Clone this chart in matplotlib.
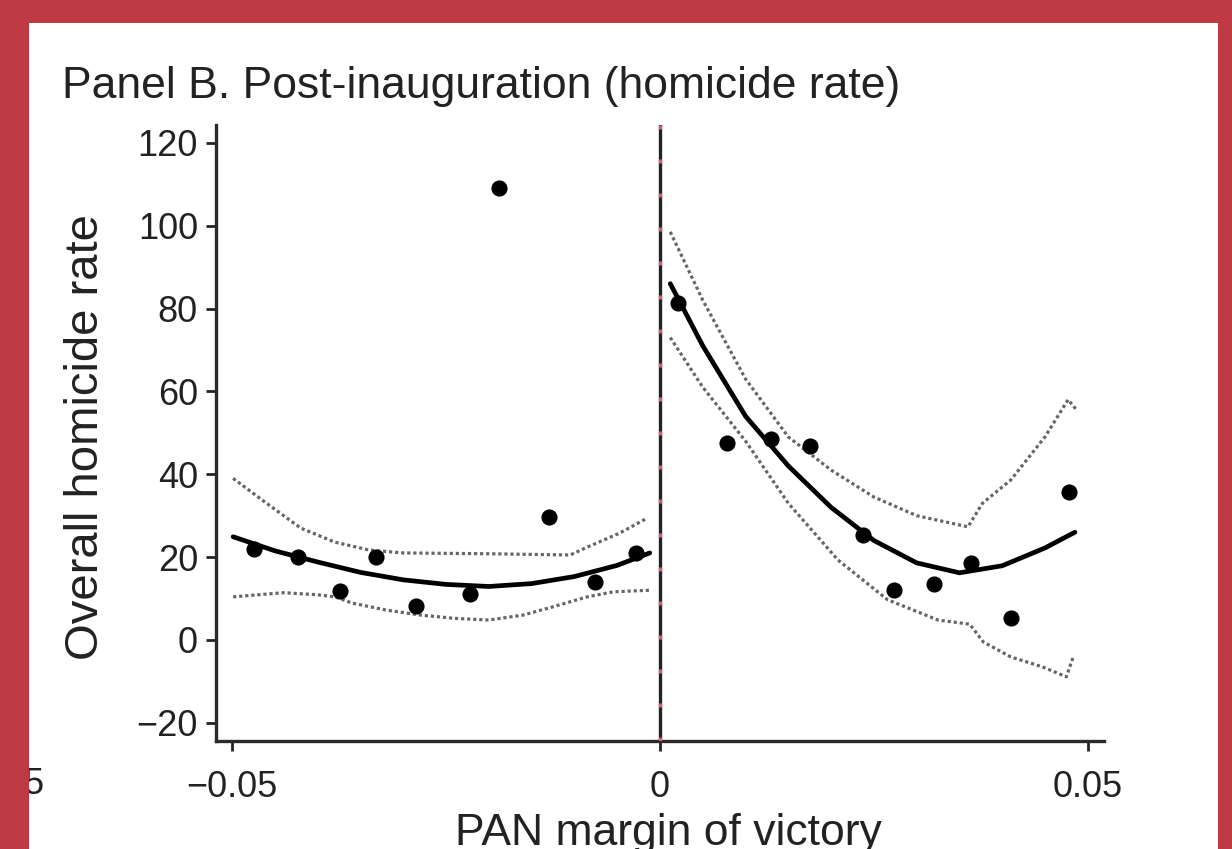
import matplotlib
matplotlib.use("Agg")
import matplotlib.pyplot as plt
from matplotlib.patches import Rectangle
from matplotlib.transforms import Bbox

plt.rcParams['font.family'] = ['Liberation Sans', 'DejaVu Sans']

# ---- data ----
left_x = [-0.0475, -0.0423, -0.0374, -0.0332, -0.0285, -0.0222, -0.0188, -0.0130, -0.0076, -0.0028]
left_y = [22, 20, 11.8, 20, 8.2, 11.1, 109, 29.7, 14, 21]
right_x = [0.0021, 0.0078, 0.0130, 0.0175, 0.0237, 0.0273, 0.0320, 0.0364, 0.0410, 0.0478]
right_y = [81.3, 47.5, 48.5, 46.8, 25.3, 12, 13.5, 18.6, 5.3, 35.7]

fitL_x = [-0.0499, -0.045, -0.040, -0.035, -0.030, -0.025, -0.020, -0.015, -0.010, -0.005, -0.0012]
fitL_y = [24.9, 21.5, 18.8, 16.3, 14.5, 13.4, 12.9, 13.6, 15.3, 18, 21]
upL_x = [-0.0499, -0.046, -0.042, -0.038, -0.034, -0.030, -0.020, -0.0105, -0.0085, -0.0047, -0.0015]
upL_y = [39, 33, 27, 23.6, 21.7, 21, 20.8, 20.5, 22.4, 25.8, 29.4]
loL_x = [-0.0499, -0.044, -0.040, -0.038, -0.036, -0.032, -0.028, -0.024, -0.020, -0.016, -0.0125, -0.0085, -0.0055, -0.0012]
loL_y = [10.4, 11.4, 10.9, 10.4, 8.9, 7.2, 6, 5.2, 4.8, 6, 8, 10.4, 11.6, 12]

fitR_x = [0.0012, 0.005, 0.010, 0.015, 0.020, 0.025, 0.030, 0.035, 0.040, 0.045, 0.0485]
fitR_y = [86, 71, 54, 42, 32, 24, 18.6, 16.2, 17.9, 22.2, 26]
upR_x = [0.0012, 0.005, 0.010, 0.015, 0.020, 0.025, 0.030, 0.036, 0.0377, 0.041, 0.045, 0.0477, 0.0487]
upR_y = [98.5, 82, 63, 49, 41, 34.5, 30, 27.3, 33, 38.6, 49, 58, 55.5]
loR_x = [0.0012, 0.005, 0.010, 0.015, 0.0208, 0.0266, 0.0325, 0.0362, 0.0378, 0.041, 0.0447, 0.0475, 0.0483]
loR_y = [73, 61, 48, 33, 19.3, 9.7, 4.8, 3.8, -0.5, -4.1, -6.5, -8.9, -4.1]

x_ticks = [-0.05, 0, 0.05]
x_ticklabels = ['\u22120.05', '0', '0.05']
y_ticks = [-20, 0, 20, 40, 60, 80, 100, 120]
y_ticklabels = ['\u221220', '0', '20', '40', '60', '80', '100', '120']

W, H = 1232, 849
fig = plt.figure(figsize=(W / 100, H / 100), dpi=100)
fig.patch.set_facecolor('#BE3A42')
fig.patches.append(Rectangle((29 / W, 0), (1218 - 29) / W, 1 - 23 / H,
                             transform=fig.transFigure, facecolor='white',
                             edgecolor='none', zorder=-10))

ax = fig.add_axes([216 / W, 1 - 741 / H, (1104 - 216) / W, (741 - 125) / H])
ax.set_facecolor('none')
ax.set_zorder(5)
ax.set_xlim(-0.0519, 0.0519)
ax.set_ylim(-24.4, 124.3)

dot = dict(color='#666666', lw=2.3, linestyle=(0, (1.0, 0.9)))
solid = dict(color='black', lw=3.4, solid_capstyle='round', solid_joinstyle='round')

ax.plot(upL_x, upL_y, **dot)
ax.plot(loL_x, loL_y, **dot)
ax.plot(upR_x, upR_y, **dot)
ax.plot(loR_x, loR_y, **dot)
ax.plot(fitL_x, fitL_y, **solid)
ax.plot(fitR_x, fitR_y, **solid)
ax.scatter(left_x, left_y, s=135, color='black', zorder=5, linewidths=0)
ax.scatter(right_x, right_y, s=135, color='black', zorder=5, linewidths=0)

ax.axvline(0, color='#222222', lw=2.4, zorder=3)
ax.axvline(0, color='#e05a6a', lw=2.4, linestyle=(0, (1.2, 9)), zorder=4)

for s in ['top', 'right']:
    ax.spines[s].set_visible(False)
for s in ['left', 'bottom']:
    ax.spines[s].set_linewidth(2.4)
    ax.spines[s].set_color('#2a2a2a')

ax.set_xticks(x_ticks)
ax.set_xticklabels(x_ticklabels)
ax.set_yticks(y_ticks)
ax.set_yticklabels(y_ticklabels)
ax.tick_params(axis='both', labelsize=26, length=7, width=2, color='#222222',
               labelcolor='#222222')
ax.tick_params(axis='y', pad=6)
ax.tick_params(axis='x', pad=14)

fig.text(62 / W, 1 - 98 / H, 'Panel B. Post-inauguration (homicide rate)',
         fontsize=32, color='#222222', ha='left', va='baseline')
fig.text(86 / W, 1 - 437 / H, 'Overall homicide rate', fontsize=34,
         color='#222222', rotation=90, ha='center', va='center')
fig.text(668 / W, 1 - 813 / H, 'PAN margin of victory', fontsize=32,
         color='#222222', ha='center', va='top')
t5 = fig.text(34 / W, 1 - 785 / H, '5', fontsize=26, color='#222222',
              ha='center', va='center')
t5.set_clip_box(Bbox.from_extents(29, 0, W, H))
t5.set_clip_on(True)

fig.savefig('out.png', dpi=100, facecolor=fig.get_facecolor())
